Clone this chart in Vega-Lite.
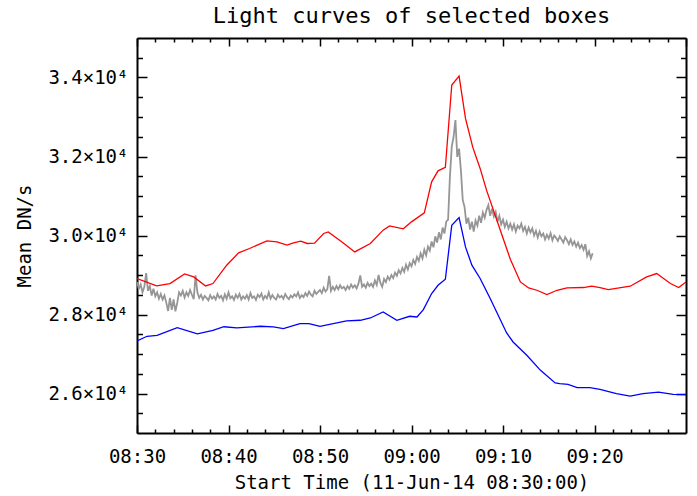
{
  "$schema": "https://vega.github.io/schema/vega-lite/v6.json",
  "width": 549,
  "height": 395,
  "autosize": "none",
  "padding": {"left": 137, "top": 38, "right": 11, "bottom": 63},
  "background": "white",
  "title": {"text": "Light curves of selected boxes", "font": "DejaVu Sans Mono", "fontSize": 22, "fontWeight": "normal", "color": "black", "anchor": "middle", "offset": 9},
  "datasets": {
    "gray": [
      {"t":"2014-06-11 08:30:00","v":28820},{"t":"2014-06-11 08:30:12","v":28650},{"t":"2014-06-11 08:30:24","v":28760},{"t":"2014-06-11 08:30:36","v":28560},{"t":"2014-06-11 08:30:48","v":28700},
      {"t":"2014-06-11 08:31:00","v":29050},{"t":"2014-06-11 08:31:12","v":28600},{"t":"2014-06-11 08:31:24","v":28720},{"t":"2014-06-11 08:31:36","v":28480},{"t":"2014-06-11 08:31:48","v":28650},
      {"t":"2014-06-11 08:32:00","v":28460},{"t":"2014-06-11 08:32:12","v":28560},{"t":"2014-06-11 08:32:24","v":28400},{"t":"2014-06-11 08:32:36","v":28520},{"t":"2014-06-11 08:32:48","v":28380},
      {"t":"2014-06-11 08:33:00","v":28480},{"t":"2014-06-11 08:33:12","v":28300},{"t":"2014-06-11 08:33:24","v":28090},{"t":"2014-06-11 08:33:36","v":28420},{"t":"2014-06-11 08:33:48","v":28120},
      {"t":"2014-06-11 08:34:00","v":28380},{"t":"2014-06-11 08:34:12","v":28080},{"t":"2014-06-11 08:34:24","v":28300},{"t":"2014-06-11 08:34:36","v":28560},{"t":"2014-06-11 08:34:48","v":28480},
      {"t":"2014-06-11 08:35:00","v":28600},{"t":"2014-06-11 08:35:12","v":28430},{"t":"2014-06-11 08:35:24","v":28560},{"t":"2014-06-11 08:35:36","v":28470},{"t":"2014-06-11 08:35:48","v":28620},
      {"t":"2014-06-11 08:36:00","v":28500},{"t":"2014-06-11 08:36:12","v":28390},{"t":"2014-06-11 08:36:24","v":28990},{"t":"2014-06-11 08:36:36","v":28560},{"t":"2014-06-11 08:36:48","v":28420},
      {"t":"2014-06-11 08:37:00","v":28500},{"t":"2014-06-11 08:37:12","v":28380},{"t":"2014-06-11 08:37:24","v":28470},{"t":"2014-06-11 08:37:36","v":28420},{"t":"2014-06-11 08:37:48","v":28360},
      {"t":"2014-06-11 08:38:00","v":28490},{"t":"2014-06-11 08:38:12","v":28400},{"t":"2014-06-11 08:38:24","v":28460},{"t":"2014-06-11 08:38:36","v":28380},{"t":"2014-06-11 08:38:48","v":28520},
      {"t":"2014-06-11 08:39:00","v":28420},{"t":"2014-06-11 08:39:12","v":28470},{"t":"2014-06-11 08:39:24","v":28360},{"t":"2014-06-11 08:39:36","v":28510},{"t":"2014-06-11 08:39:48","v":28400},
      {"t":"2014-06-11 08:40:00","v":28560},{"t":"2014-06-11 08:40:12","v":28410},{"t":"2014-06-11 08:40:24","v":28460},{"t":"2014-06-11 08:40:36","v":28370},{"t":"2014-06-11 08:40:48","v":28500},
      {"t":"2014-06-11 08:41:00","v":28420},{"t":"2014-06-11 08:41:12","v":28520},{"t":"2014-06-11 08:41:24","v":28380},{"t":"2014-06-11 08:41:36","v":28460},{"t":"2014-06-11 08:41:48","v":28400},
      {"t":"2014-06-11 08:42:00","v":28490},{"t":"2014-06-11 08:42:12","v":28380},{"t":"2014-06-11 08:42:24","v":28540},{"t":"2014-06-11 08:42:36","v":28420},{"t":"2014-06-11 08:42:48","v":28460},
      {"t":"2014-06-11 08:43:00","v":28370},{"t":"2014-06-11 08:43:12","v":28500},{"t":"2014-06-11 08:43:24","v":28440},{"t":"2014-06-11 08:43:36","v":28530},{"t":"2014-06-11 08:43:48","v":28380},
      {"t":"2014-06-11 08:44:00","v":28470},{"t":"2014-06-11 08:44:12","v":28410},{"t":"2014-06-11 08:44:24","v":28560},{"t":"2014-06-11 08:44:36","v":28400},{"t":"2014-06-11 08:44:48","v":28490},
      {"t":"2014-06-11 08:45:00","v":28420},{"t":"2014-06-11 08:45:12","v":28380},{"t":"2014-06-11 08:45:24","v":28500},{"t":"2014-06-11 08:45:36","v":28430},{"t":"2014-06-11 08:45:48","v":28470},
      {"t":"2014-06-11 08:46:00","v":28400},{"t":"2014-06-11 08:46:12","v":28520},{"t":"2014-06-11 08:46:24","v":28440},{"t":"2014-06-11 08:46:36","v":28390},{"t":"2014-06-11 08:46:48","v":28480},
      {"t":"2014-06-11 08:47:00","v":28430},{"t":"2014-06-11 08:47:12","v":28510},{"t":"2014-06-11 08:47:24","v":28460},{"t":"2014-06-11 08:47:36","v":28560},{"t":"2014-06-11 08:47:48","v":28420},
      {"t":"2014-06-11 08:48:00","v":28490},{"t":"2014-06-11 08:48:12","v":28440},{"t":"2014-06-11 08:48:24","v":28540},{"t":"2014-06-11 08:48:36","v":28470},{"t":"2014-06-11 08:48:48","v":28580},
      {"t":"2014-06-11 08:49:00","v":28500},{"t":"2014-06-11 08:49:12","v":28460},{"t":"2014-06-11 08:49:24","v":28600},{"t":"2014-06-11 08:49:36","v":28520},{"t":"2014-06-11 08:49:48","v":28570},
      {"t":"2014-06-11 08:50:00","v":28620},{"t":"2014-06-11 08:50:12","v":28540},{"t":"2014-06-11 08:50:24","v":28680},{"t":"2014-06-11 08:50:36","v":28580},{"t":"2014-06-11 08:50:48","v":28640},
      {"t":"2014-06-11 08:51:00","v":28980},{"t":"2014-06-11 08:51:12","v":28600},{"t":"2014-06-11 08:51:24","v":28700},{"t":"2014-06-11 08:51:36","v":28620},{"t":"2014-06-11 08:51:48","v":28720},
      {"t":"2014-06-11 08:52:00","v":28640},{"t":"2014-06-11 08:52:12","v":28740},{"t":"2014-06-11 08:52:24","v":28660},{"t":"2014-06-11 08:52:36","v":28700},{"t":"2014-06-11 08:52:48","v":28620},
      {"t":"2014-06-11 08:53:00","v":28720},{"t":"2014-06-11 08:53:12","v":28650},{"t":"2014-06-11 08:53:24","v":28760},{"t":"2014-06-11 08:53:36","v":28680},{"t":"2014-06-11 08:53:48","v":28740},
      {"t":"2014-06-11 08:54:00","v":28660},{"t":"2014-06-11 08:54:12","v":28780},{"t":"2014-06-11 08:54:24","v":28990},{"t":"2014-06-11 08:54:36","v":28700},{"t":"2014-06-11 08:54:48","v":28760},
      {"t":"2014-06-11 08:55:00","v":28680},{"t":"2014-06-11 08:55:12","v":28800},{"t":"2014-06-11 08:55:24","v":28720},{"t":"2014-06-11 08:55:36","v":28780},{"t":"2014-06-11 08:55:48","v":28700},
      {"t":"2014-06-11 08:56:00","v":28860},{"t":"2014-06-11 08:56:12","v":28750},{"t":"2014-06-11 08:56:24","v":29000},{"t":"2014-06-11 08:56:36","v":28800},{"t":"2014-06-11 08:56:48","v":28700},
      {"t":"2014-06-11 08:57:00","v":28900},{"t":"2014-06-11 08:57:12","v":28820},{"t":"2014-06-11 08:57:24","v":28960},{"t":"2014-06-11 08:57:36","v":28880},{"t":"2014-06-11 08:57:48","v":29000},
      {"t":"2014-06-11 08:58:00","v":28920},{"t":"2014-06-11 08:58:12","v":29060},{"t":"2014-06-11 08:58:24","v":28980},{"t":"2014-06-11 08:58:36","v":29120},{"t":"2014-06-11 08:58:48","v":29040},
      {"t":"2014-06-11 08:59:00","v":29180},{"t":"2014-06-11 08:59:12","v":29080},{"t":"2014-06-11 08:59:24","v":29260},{"t":"2014-06-11 08:59:36","v":29140},{"t":"2014-06-11 08:59:48","v":29300},
      {"t":"2014-06-11 09:00:00","v":29220},{"t":"2014-06-11 09:00:12","v":29380},{"t":"2014-06-11 09:00:24","v":29280},{"t":"2014-06-11 09:00:36","v":29460},{"t":"2014-06-11 09:00:48","v":29360},
      {"t":"2014-06-11 09:01:00","v":29550},{"t":"2014-06-11 09:01:12","v":29420},{"t":"2014-06-11 09:01:24","v":29640},{"t":"2014-06-11 09:01:36","v":29500},{"t":"2014-06-11 09:01:48","v":29720},
      {"t":"2014-06-11 09:02:00","v":29620},{"t":"2014-06-11 09:02:12","v":29850},{"t":"2014-06-11 09:02:24","v":29700},{"t":"2014-06-11 09:02:36","v":29980},{"t":"2014-06-11 09:02:48","v":29820},
      {"t":"2014-06-11 09:03:00","v":30080},{"t":"2014-06-11 09:03:12","v":29900},{"t":"2014-06-11 09:03:24","v":30200},{"t":"2014-06-11 09:03:36","v":30050},{"t":"2014-06-11 09:03:48","v":30350},
      {"t":"2014-06-11 09:04:00","v":30400},{"t":"2014-06-11 09:04:12","v":31500},{"t":"2014-06-11 09:04:24","v":32250},{"t":"2014-06-11 09:04:36","v":32500},{"t":"2014-06-11 09:04:48","v":32920},
      {"t":"2014-06-11 09:05:00","v":31990},{"t":"2014-06-11 09:05:12","v":32200},{"t":"2014-06-11 09:05:24","v":31650},{"t":"2014-06-11 09:05:36","v":30900},{"t":"2014-06-11 09:05:48","v":30720},
      {"t":"2014-06-11 09:06:00","v":30300},{"t":"2014-06-11 09:06:12","v":30450},{"t":"2014-06-11 09:06:24","v":30150},{"t":"2014-06-11 09:06:36","v":30350},{"t":"2014-06-11 09:06:48","v":30100},
      {"t":"2014-06-11 09:07:00","v":30380},{"t":"2014-06-11 09:07:12","v":30250},{"t":"2014-06-11 09:07:24","v":30500},{"t":"2014-06-11 09:07:36","v":30320},{"t":"2014-06-11 09:07:48","v":30580},
      {"t":"2014-06-11 09:08:00","v":30450},{"t":"2014-06-11 09:08:12","v":30650},{"t":"2014-06-11 09:08:24","v":30770},{"t":"2014-06-11 09:08:36","v":30500},{"t":"2014-06-11 09:08:48","v":30680},
      {"t":"2014-06-11 09:09:00","v":30480},{"t":"2014-06-11 09:09:12","v":30600},{"t":"2014-06-11 09:09:24","v":30350},{"t":"2014-06-11 09:09:36","v":30500},{"t":"2014-06-11 09:09:48","v":30280},
      {"t":"2014-06-11 09:10:00","v":30400},{"t":"2014-06-11 09:10:12","v":30220},{"t":"2014-06-11 09:10:24","v":30350},{"t":"2014-06-11 09:10:36","v":30180},{"t":"2014-06-11 09:10:48","v":30300},
      {"t":"2014-06-11 09:11:00","v":30150},{"t":"2014-06-11 09:11:12","v":30280},{"t":"2014-06-11 09:11:24","v":30100},{"t":"2014-06-11 09:11:36","v":30250},{"t":"2014-06-11 09:11:48","v":30180},
      {"t":"2014-06-11 09:12:00","v":30300},{"t":"2014-06-11 09:12:12","v":30120},{"t":"2014-06-11 09:12:24","v":30220},{"t":"2014-06-11 09:12:36","v":30050},{"t":"2014-06-11 09:12:48","v":30200},
      {"t":"2014-06-11 09:13:00","v":30080},{"t":"2014-06-11 09:13:12","v":30180},{"t":"2014-06-11 09:13:24","v":30000},{"t":"2014-06-11 09:13:36","v":30120},{"t":"2014-06-11 09:13:48","v":29950},
      {"t":"2014-06-11 09:14:00","v":30100},{"t":"2014-06-11 09:14:12","v":29980},{"t":"2014-06-11 09:14:24","v":30050},{"t":"2014-06-11 09:14:36","v":29900},{"t":"2014-06-11 09:14:48","v":30020},
      {"t":"2014-06-11 09:15:00","v":29920},{"t":"2014-06-11 09:15:12","v":30060},{"t":"2014-06-11 09:15:24","v":29880},{"t":"2014-06-11 09:15:36","v":30000},{"t":"2014-06-11 09:15:48","v":29940},
      {"t":"2014-06-11 09:16:00","v":29860},{"t":"2014-06-11 09:16:12","v":29980},{"t":"2014-06-11 09:16:24","v":29900},{"t":"2014-06-11 09:16:36","v":29820},{"t":"2014-06-11 09:16:48","v":29960},
      {"t":"2014-06-11 09:17:00","v":29880},{"t":"2014-06-11 09:17:12","v":29780},{"t":"2014-06-11 09:17:24","v":29900},{"t":"2014-06-11 09:17:36","v":29760},{"t":"2014-06-11 09:17:48","v":29850},
      {"t":"2014-06-11 09:18:00","v":29720},{"t":"2014-06-11 09:18:12","v":29820},{"t":"2014-06-11 09:18:24","v":29680},{"t":"2014-06-11 09:18:36","v":29760},{"t":"2014-06-11 09:18:48","v":29640},
      {"t":"2014-06-11 09:19:00","v":29780},{"t":"2014-06-11 09:19:12","v":29480},{"t":"2014-06-11 09:19:24","v":29600},{"t":"2014-06-11 09:19:36","v":29420},{"t":"2014-06-11 09:19:48","v":29550}
    ],
    "red": [
      {"t":"2014-06-11 08:30:00","v":28911},{"t":"2014-06-11 08:32:09","v":28723},{"t":"2014-06-11 08:33:36","v":28784},{"t":"2014-06-11 08:35:12","v":29027},{"t":"2014-06-11 08:36:12","v":28951},{"t":"2014-06-11 08:37:30","v":28723},{"t":"2014-06-11 08:38:18","v":28784},{"t":"2014-06-11 08:39:48","v":29248},{"t":"2014-06-11 08:41:06","v":29560},{"t":"2014-06-11 08:42:18","v":29671},{"t":"2014-06-11 08:44:12","v":29864},{"t":"2014-06-11 08:45:18","v":29838},{"t":"2014-06-11 08:46:24","v":29755},{"t":"2014-06-11 08:47:06","v":29813},{"t":"2014-06-11 08:47:54","v":29856},{"t":"2014-06-11 08:48:36","v":29798},{"t":"2014-06-11 08:49:24","v":29805},{"t":"2014-06-11 08:50:24","v":30051},{"t":"2014-06-11 08:50:54","v":30092},{"t":"2014-06-11 08:52:24","v":29838},{"t":"2014-06-11 08:53:48","v":29585},{"t":"2014-06-11 08:55:30","v":29798},{"t":"2014-06-11 08:56:54","v":30135},{"t":"2014-06-11 08:57:36","v":30244},{"t":"2014-06-11 08:59:06","v":30170},{"t":"2014-06-11 09:00:00","v":30345},{"t":"2014-06-11 09:01:24","v":30573},{"t":"2014-06-11 09:02:12","v":31359},{"t":"2014-06-11 09:02:54","v":31637},{"t":"2014-06-11 09:03:42","v":31723},{"t":"2014-06-11 09:04:24","v":33809},{"t":"2014-06-11 09:05:12","v":34037},{"t":"2014-06-11 09:05:54","v":32965},{"t":"2014-06-11 09:06:42","v":32230},{"t":"2014-06-11 09:07:30","v":31698},{"t":"2014-06-11 09:08:12","v":31148},{"t":"2014-06-11 09:09:30","v":30270},{"t":"2014-06-11 09:10:48","v":29400},{"t":"2014-06-11 09:11:54","v":28825},{"t":"2014-06-11 09:12:48","v":28673},{"t":"2014-06-11 09:13:42","v":28614},{"t":"2014-06-11 09:14:48","v":28505},{"t":"2014-06-11 09:15:54","v":28614},{"t":"2014-06-11 09:17:00","v":28673},{"t":"2014-06-11 09:18:48","v":28683},{"t":"2014-06-11 09:19:42","v":28716},{"t":"2014-06-11 09:20:36","v":28683},{"t":"2014-06-11 09:21:30","v":28632},{"t":"2014-06-11 09:23:54","v":28716},{"t":"2014-06-11 09:25:42","v":28952},{"t":"2014-06-11 09:26:48","v":29037},{"t":"2014-06-11 09:28:18","v":28784},{"t":"2014-06-11 09:29:12","v":28683},{"t":"2014-06-11 09:30:00","v":28825}
    ],
    "blue": [
      {"t":"2014-06-11 08:30:00","v":27330},{"t":"2014-06-11 08:31:06","v":27449},{"t":"2014-06-11 08:32:12","v":27470},{"t":"2014-06-11 08:34:24","v":27665},{"t":"2014-06-11 08:36:36","v":27510},{"t":"2014-06-11 08:38:18","v":27601},{"t":"2014-06-11 08:39:30","v":27690},{"t":"2014-06-11 08:40:54","v":27660},{"t":"2014-06-11 08:43:30","v":27702},{"t":"2014-06-11 08:44:54","v":27685},{"t":"2014-06-11 08:46:00","v":27643},{"t":"2014-06-11 08:47:48","v":27770},{"t":"2014-06-11 08:48:48","v":27770},{"t":"2014-06-11 08:50:00","v":27702},{"t":"2014-06-11 08:52:54","v":27837},{"t":"2014-06-11 08:54:24","v":27854},{"t":"2014-06-11 08:55:30","v":27912},{"t":"2014-06-11 08:56:54","v":28065},{"t":"2014-06-11 08:58:24","v":27854},{"t":"2014-06-11 08:59:48","v":27955},{"t":"2014-06-11 09:00:36","v":27938},{"t":"2014-06-11 09:01:18","v":28125},{"t":"2014-06-11 09:02:12","v":28530},{"t":"2014-06-11 09:02:54","v":28741},{"t":"2014-06-11 09:03:42","v":28893},{"t":"2014-06-11 09:04:24","v":30261},{"t":"2014-06-11 09:05:12","v":30456},{"t":"2014-06-11 09:05:54","v":29711},{"t":"2014-06-11 09:06:36","v":29248},{"t":"2014-06-11 09:07:30","v":28911},{"t":"2014-06-11 09:08:36","v":28404},{"t":"2014-06-11 09:10:24","v":27533},{"t":"2014-06-11 09:11:06","v":27305},{"t":"2014-06-11 09:12:36","v":26967},{"t":"2014-06-11 09:14:06","v":26587},{"t":"2014-06-11 09:15:42","v":26266},{"t":"2014-06-11 09:16:12","v":26250},{"t":"2014-06-11 09:17:06","v":26232},{"t":"2014-06-11 09:18:06","v":26149},{"t":"2014-06-11 09:19:30","v":26149},{"t":"2014-06-11 09:20:36","v":26106},{"t":"2014-06-11 09:22:24","v":25997},{"t":"2014-06-11 09:23:54","v":25936},{"t":"2014-06-11 09:25:18","v":25997},{"t":"2014-06-11 09:27:00","v":26037},{"t":"2014-06-11 09:28:36","v":25979},{"t":"2014-06-11 09:30:00","v":25972}
    ]
  },
  "layer": [
    {
      "data": {"name": "gray"},
      "mark": {"type": "line", "color": "#969696", "strokeWidth": 1.8, "clip": true},
      "encoding": {
        "x": {"field": "t", "type": "temporal",
          "scale": {"domain": [{"year": 2014, "month": 6, "date": 11, "hours": 8, "minutes": 30}, {"year": 2014, "month": 6, "date": 11, "hours": 9, "minutes": 30}], "nice": false},
          "axis": {"orient": "top", "labels": false, "title": null, "grid": false, "tickSize": -8,
            "values": [{"year":2014,"month":6,"date":11,"hours":8,"minutes":30},{"year":2014,"month":6,"date":11,"hours":8,"minutes":40},{"year":2014,"month":6,"date":11,"hours":8,"minutes":50},{"year":2014,"month":6,"date":11,"hours":9,"minutes":0},{"year":2014,"month":6,"date":11,"hours":9,"minutes":10},{"year":2014,"month":6,"date":11,"hours":9,"minutes":20},{"year":2014,"month":6,"date":11,"hours":9,"minutes":30}]}},
        "y": {"field": "v", "type": "quantitative",
          "scale": {"domain": [25000, 35000], "nice": false, "zero": false},
          "axis": {"orient": "right", "labels": false, "title": null, "grid": false, "tickSize": -10,
            "values": [26000, 28000, 30000, 32000, 34000]}}
      }
    },
    {
      "data": {"name": "red"},
      "mark": {"type": "line", "color": "#ff0000", "strokeWidth": 1.3, "clip": true},
      "encoding": {
        "x": {"field": "t", "type": "temporal",
          "axis": {"orient": "bottom", "title": "Start Time (11-Jun-14 08:30:00)", "grid": false, "tickSize": -8, "format": "%H:%M",
            "values": [{"year":2014,"month":6,"date":11,"hours":8,"minutes":30},{"year":2014,"month":6,"date":11,"hours":8,"minutes":40},{"year":2014,"month":6,"date":11,"hours":8,"minutes":50},{"year":2014,"month":6,"date":11,"hours":9,"minutes":0},{"year":2014,"month":6,"date":11,"hours":9,"minutes":10},{"year":2014,"month":6,"date":11,"hours":9,"minutes":20}],
            "labelFontSize": 19, "labelPadding": 22, "labelOverlap": false, "labelFlush": false,
            "titleFontSize": 19, "titlePadding": 7}},
        "y": {"field": "v", "type": "quantitative",
          "axis": {"orient": "left", "title": "Mean DN/s", "grid": false, "tickSize": -10,
            "values": [26000, 28000, 30000, 32000, 34000],
            "labelExpr": "format(datum.value / 10000, '.1f') + '×10⁴'",
            "labelFontSize": 19, "labelPadding": 19, "labelOverlap": false, "labelFlush": false,
            "titleFontSize": 19, "titlePadding": 13}}
      }
    },
    {
      "data": {"name": "blue"},
      "mark": {"type": "line", "color": "#0000ff", "strokeWidth": 1.3, "clip": true},
      "encoding": {
        "x": {"field": "t", "type": "temporal",
          "axis": {"orient": "bottom", "labels": false, "title": null, "grid": false, "domain": false, "tickSize": -4,
            "values": [{"year":2014,"month":6,"date":11,"hours":8,"minutes":32},{"year":2014,"month":6,"date":11,"hours":8,"minutes":34},{"year":2014,"month":6,"date":11,"hours":8,"minutes":36},{"year":2014,"month":6,"date":11,"hours":8,"minutes":38},{"year":2014,"month":6,"date":11,"hours":8,"minutes":42},{"year":2014,"month":6,"date":11,"hours":8,"minutes":44},{"year":2014,"month":6,"date":11,"hours":8,"minutes":46},{"year":2014,"month":6,"date":11,"hours":8,"minutes":48},{"year":2014,"month":6,"date":11,"hours":8,"minutes":52},{"year":2014,"month":6,"date":11,"hours":8,"minutes":54},{"year":2014,"month":6,"date":11,"hours":8,"minutes":56},{"year":2014,"month":6,"date":11,"hours":8,"minutes":58},{"year":2014,"month":6,"date":11,"hours":9,"minutes":2},{"year":2014,"month":6,"date":11,"hours":9,"minutes":4},{"year":2014,"month":6,"date":11,"hours":9,"minutes":6},{"year":2014,"month":6,"date":11,"hours":9,"minutes":8},{"year":2014,"month":6,"date":11,"hours":9,"minutes":12},{"year":2014,"month":6,"date":11,"hours":9,"minutes":14},{"year":2014,"month":6,"date":11,"hours":9,"minutes":16},{"year":2014,"month":6,"date":11,"hours":9,"minutes":18},{"year":2014,"month":6,"date":11,"hours":9,"minutes":22},{"year":2014,"month":6,"date":11,"hours":9,"minutes":24},{"year":2014,"month":6,"date":11,"hours":9,"minutes":26},{"year":2014,"month":6,"date":11,"hours":9,"minutes":28}]}},
        "y": {"field": "v", "type": "quantitative",
          "axis": {"orient": "left", "labels": false, "title": null, "grid": false, "domain": false, "tickSize": -5.5,
            "values": [25500,26500,27000,27500,28500,29000,29500,30500,31000,31500,32500,33000,33500,34500]}}
      }
    },
    {
      "data": {"name": "blue"},
      "mark": {"type": "line", "strokeOpacity": 0, "clip": true},
      "encoding": {
        "x": {"field": "t", "type": "temporal",
          "axis": {"orient": "top", "labels": false, "title": null, "grid": false, "domain": false, "tickSize": -4,
            "values": [{"year":2014,"month":6,"date":11,"hours":8,"minutes":32},{"year":2014,"month":6,"date":11,"hours":8,"minutes":34},{"year":2014,"month":6,"date":11,"hours":8,"minutes":36},{"year":2014,"month":6,"date":11,"hours":8,"minutes":38},{"year":2014,"month":6,"date":11,"hours":8,"minutes":42},{"year":2014,"month":6,"date":11,"hours":8,"minutes":44},{"year":2014,"month":6,"date":11,"hours":8,"minutes":46},{"year":2014,"month":6,"date":11,"hours":8,"minutes":48},{"year":2014,"month":6,"date":11,"hours":8,"minutes":52},{"year":2014,"month":6,"date":11,"hours":8,"minutes":54},{"year":2014,"month":6,"date":11,"hours":8,"minutes":56},{"year":2014,"month":6,"date":11,"hours":8,"minutes":58},{"year":2014,"month":6,"date":11,"hours":9,"minutes":2},{"year":2014,"month":6,"date":11,"hours":9,"minutes":4},{"year":2014,"month":6,"date":11,"hours":9,"minutes":6},{"year":2014,"month":6,"date":11,"hours":9,"minutes":8},{"year":2014,"month":6,"date":11,"hours":9,"minutes":12},{"year":2014,"month":6,"date":11,"hours":9,"minutes":14},{"year":2014,"month":6,"date":11,"hours":9,"minutes":16},{"year":2014,"month":6,"date":11,"hours":9,"minutes":18},{"year":2014,"month":6,"date":11,"hours":9,"minutes":22},{"year":2014,"month":6,"date":11,"hours":9,"minutes":24},{"year":2014,"month":6,"date":11,"hours":9,"minutes":26},{"year":2014,"month":6,"date":11,"hours":9,"minutes":28}]}},
        "y": {"field": "v", "type": "quantitative",
          "axis": {"orient": "right", "labels": false, "title": null, "grid": false, "domain": false, "tickSize": -5.5,
            "values": [25500,26500,27000,27500,28500,29000,29500,30500,31000,31500,32500,33000,33500,34500]}}
      }
    }
  ],
  "resolve": {"axis": {"x": "independent", "y": "independent"}},
  "config": {
    "view": {"stroke": null},
    "axis": {"domainColor": "black", "domainWidth": 2, "tickColor": "black", "tickWidth": 1.5, "labelColor": "black", "titleColor": "black", "labelFont": "DejaVu Sans Mono", "titleFont": "DejaVu Sans Mono", "titleFontWeight": "normal"}
  }
}
